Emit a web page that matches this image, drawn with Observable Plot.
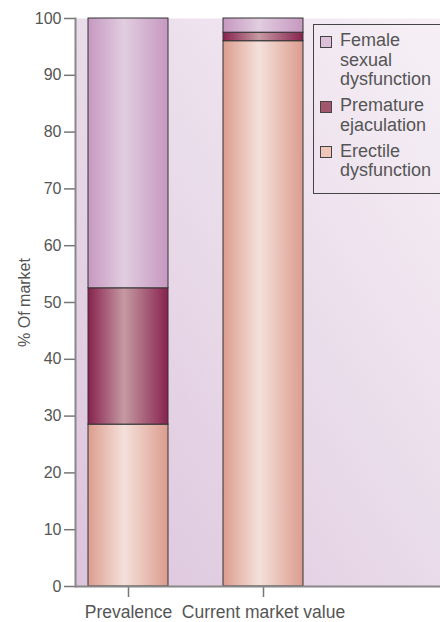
<!DOCTYPE html>
<html>
<head>
<meta charset="utf-8">
<script src="https://cdn.jsdelivr.net/npm/d3@7"></script>
<script src="https://cdn.jsdelivr.net/npm/@observablehq/plot@0.6"></script>
<style>
  html, body { margin: 0; padding: 0; background: #ffffff; overflow: hidden; }
  #wrap { position: relative; width: 440px; height: 622px; overflow: hidden; font-family: "Liberation Sans", Arial, sans-serif; }
  #legend { position: absolute; left: 313px; top: 24px; width: 150px; border: 1px solid #444; padding: 6px 0 12px 6px; box-sizing: border-box; color: #555; font-size: 18px; line-height: 19.5px; }
  .item { position: relative; padding-left: 20px; margin-bottom: 6.5px; }
  .item:last-child { margin-bottom: 0; }
  .sw { position: absolute; left: 0px; top: 4.5px; width: 10px; height: 10px; border: 1px solid #444; }
</style>
</head>
<body>
<div id="wrap"></div>
<script>
const categories = ["Prevalence", "Current market value"];
const series = ["Erectile dysfunction", "Premature ejaculation", "Female sexual dysfunction"];
const erectile = [28.5, 96.0];
const premature = [24.0, 1.5];
const female = [47.5, 2.5];
const yTicks = [0, 10, 20, 30, 40, 50, 60, 70, 80, 90, 100];
const legendOrder = ["Female sexual dysfunction", "Premature ejaculation", "Erectile dysfunction"];
const legendLines = {
  "Female sexual dysfunction": ["Female", "sexual", "dysfunction"],
  "Premature ejaculation": ["Premature", "ejaculation"],
  "Erectile dysfunction": ["Erectile", "dysfunction"]
};

const gradients = {
  "Erectile dysfunction": {id: "g-ed", edge: "#dc9c8e", mid: "#f4e1db", swatch: "#efc6b8"},
  "Premature ejaculation": {id: "g-pe", edge: "#88224e", mid: "#c59aa3", swatch: "#a4566f"},
  "Female sexual dysfunction": {id: "g-fsd", edge: "#c698c0", mid: "#e1cde0", swatch: "#dcc0d9"}
};

const valuesBySeries = [erectile, premature, female];
const data = [];
categories.forEach((c, i) => {
  series.forEach((s, j) => data.push({category: c, series: s, value: valuesBySeries[j][i]}));
});

const chart = Plot.plot({
  width: 440,
  height: 622,
  marginLeft: 75,
  marginRight: 0,
  marginTop: 18,
  marginBottom: 36,
  style: {fontFamily: "'Liberation Sans', Arial, sans-serif", fontSize: "16px", color: "#555", background: "transparent", overflow: "visible"},
  x: {domain: categories, range: [87, 303], paddingInner: 0.41, paddingOuter: 0, label: null},
  y: {domain: [0, 100], label: null},
  color: {domain: series, range: series.map(s => `url(#${gradients[s].id})`)},
  marks: [
    Plot.frame({fill: "url(#bg)", stroke: null}),
    Plot.barY(data, {x: "category", y: "value", fill: "series", stroke: "#333", strokeWidth: 1}),
    Plot.axisY({ticks: yTicks, tickSize: 11, tickPadding: 3, stroke: "#777", strokeWidth: 1.5, fontSize: 16, fill: "#555",
      label: "% Of market", labelAnchor: "center", labelArrow: "none", labelOffset: 57}),
    Plot.axisX({tickSize: 11, tickPadding: 8, stroke: "#777", strokeWidth: 1.5, fontSize: 17.5, fill: "#555", label: null}),
    Plot.ruleY([0], {stroke: "#888", strokeWidth: 2}),
    Plot.frame({anchor: "left", stroke: "#888", strokeWidth: 2})
  ]
});

const svg = d3.select(chart);
const defs = svg.insert("defs", ":first-child");
const bg = defs.append("linearGradient").attr("id", "bg")
  .attr("x1", 0).attr("y1", 1).attr("x2", 1).attr("y2", 0);
bg.append("stop").attr("offset", 0).attr("stop-color", "#dcc4dc");
bg.append("stop").attr("offset", 0.5).attr("stop-color", "#e9dbe9");
bg.append("stop").attr("offset", 1).attr("stop-color", "#f6f0f6");
Object.values(gradients).forEach(g => {
  const lg = defs.append("linearGradient").attr("id", g.id).attr("x1", 0).attr("x2", 1).attr("y1", 0).attr("y2", 0);
  lg.append("stop").attr("offset", 0).attr("stop-color", g.edge);
  lg.append("stop").attr("offset", 0.45).attr("stop-color", g.mid);
  lg.append("stop").attr("offset", 1).attr("stop-color", g.edge);
});

const wrap = document.getElementById("wrap");
wrap.appendChild(chart);

const legend = document.createElement("div");
legend.id = "legend";
legendOrder.forEach(s => {
  const item = document.createElement("div");
  item.className = "item";
  const sw = document.createElement("span");
  sw.className = "sw";
  sw.style.background = gradients[s].swatch;
  item.appendChild(sw);
  legendLines[s].forEach(line => {
    const l = document.createElement("div");
    l.textContent = line;
    item.appendChild(l);
  });
  legend.appendChild(item);
});
wrap.appendChild(legend);
</script>
</body>
</html>
